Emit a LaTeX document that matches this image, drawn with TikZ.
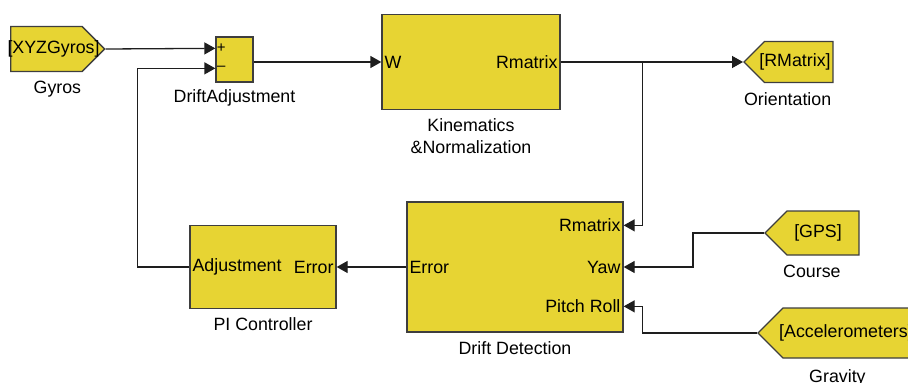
\documentclass[tikz,border=0pt]{standalone}
\usepackage{fontspec}
\setmainfont{Liberation Sans}
\usepackage{tikz}
\usetikzlibrary{
	arrows.meta,
	calc,
	positioning,
	shapes.symbols
}
\definecolor{BlockYellow}{RGB}{231,212,51}
\definecolor{EdgeGray}{RGB}{62,62,62}
\definecolor{WireGray}{RGB}{30,30,30}

\begin{document}
\begin{tikzpicture}[x=1pt, y=-1pt,
		font=\fontsize{17.8pt}{22pt}\selectfont,
		block/.style={draw=EdgeGray, line width=1.3pt, fill=BlockYellow, inner sep=0pt},
		gotag/.style={block, shape=signal, signal to=east},
		fromtag/.style={block, shape=signal, signal to=west},
		port/.style={inner sep=3pt},
		caption/.style={inner sep=0pt, align=center},
		wire/.style={draw=WireGray, line width=1.3pt},
		sig/.style={wire, -{Triangle[length=11pt,width=12pt]}}]
		\useasboundingbox (0,0) rectangle (908,383);
		
		% 模块
		\node[block, minimum width=37pt, minimum height=45pt] (sum) at (234.5,59.5) {};
		\node[block, minimum width=178pt, minimum height=95pt] (kin) at (471,62) {};
		\node[block, minimum width=216pt, minimum height=130pt] (drift) at (515,267) {};
		\node[block, minimum width=146pt, minimum height=83pt] (pi) at (263,267) {};
		
		% Goto / From 标签
		\node[gotag, minimum width=94pt, minimum height=45pt, anchor=west] (gyros) at (10,49) {};
		\node[fromtag, minimum width=89pt, minimum height=41pt, anchor=west] (orient) at (743,62) {};
		\node[fromtag, minimum width=94pt, minimum height=44pt, anchor=west] (gps) at (764,233) {};
		\node[fromtag, minimum width=160pt, minimum height=50pt, anchor=west] (accel) at (757,333) {};
		\node[inner sep=0pt] (gyrostxt) at (53.5,49) {[XYZGyros]};
		\node[inner sep=0pt] (orienttxt) at (795,62) {[RMatrix]};
		\node[inner sep=0pt] (gpstxt) at (818,233) {[GPS]};
		\node[inner sep=0pt, anchor=west] (acceltxt) at (779,333) {[Accelerometers]};
		
		% 端口
		\coordinate (sum-p) at ($(sum.north west)+(0,12)$);
		\coordinate (sum-m) at ($(sum.north west)+(0,32)$);
		\coordinate (sum-o) at ($(sum.east)+(0,2.5)$);
		\coordinate (dd-r) at ($(drift.north east)+(0,24)$);
		\coordinate (dd-p) at ($(drift.north east)+(0,105)$);
		\coordinate (rsplit) at ($(kin.east)+(82,0)$);
		
		\node[font=\fontsize{15pt}{15pt}\selectfont, inner sep=0pt] (splus) at ($(sum-p)+(6,0)$) {+};
		\node[font=\fontsize{15pt}{15pt}\selectfont, inner sep=0pt] (sminus) at ($(sum-m)+(6,0)$) {--};
		\node[port, anchor=west] (kinw) at (kin.west) {W};
		\node[port, anchor=east] (kinr) at (kin.east) {Rmatrix};
		\node[port, anchor=east] (ddr) at (dd-r) {Rmatrix};
		\node[port, anchor=east] (ddy) at (drift.east) {Yaw};
		\node[port, anchor=east] (ddp) at (dd-p) {Pitch Roll};
		\node[port, anchor=west] (dde) at (drift.west) {Error};
		\node[port, anchor=west] (pia) at (pi.west) {Adjustment};
		\node[port, anchor=east] (pie) at (pi.east) {Error};
		
		% 名称
		\node[caption, below=6.5pt of sum] (sumlbl) {DriftAdjustment};
		\node[caption, below=8.5pt of kin] (kinlbl) {Kinematics\\\&Normalization};
		\node[caption, below=8.5pt of drift] (driftlbl) {Drift Detection};
		\node[caption, below=8pt of pi] (pilbl) {PI Controller};
		\node[caption, below=8.5pt of gyros, xshift=11pt] (gyroslbl) {Gyros};
		\node[caption, below=9.5pt of orient, xshift=-11pt] (orientlbl) {Orientation};
		\node[caption, below=9.5pt of gps, xshift=-11pt] (gpslbl) {Course};
		\node[caption, below=10.5pt of accel, xshift=-13pt] (accellbl) {Gravity};
		
		% 连线
		\draw[sig] (gyros.east) -- (sum-p);
		\draw[sig] (sum-o) -- (kin.west);
		\draw[sig] (kin.east) -- (orient.west);
		\draw[sig] (rsplit) |- (dd-r);
		\draw[sig] (gps.west) -- ++(-71,0) |- (drift.east);
		\draw[sig] (accel.west) -| ($(dd-p)+(19,0)$) -- (dd-p);
		\draw[sig] (drift.west) -- (pi.east);
		\draw[sig] (pi.west) -- ++(-52,0) |- (sum-m);
		
	\end{tikzpicture}
\end{document}
